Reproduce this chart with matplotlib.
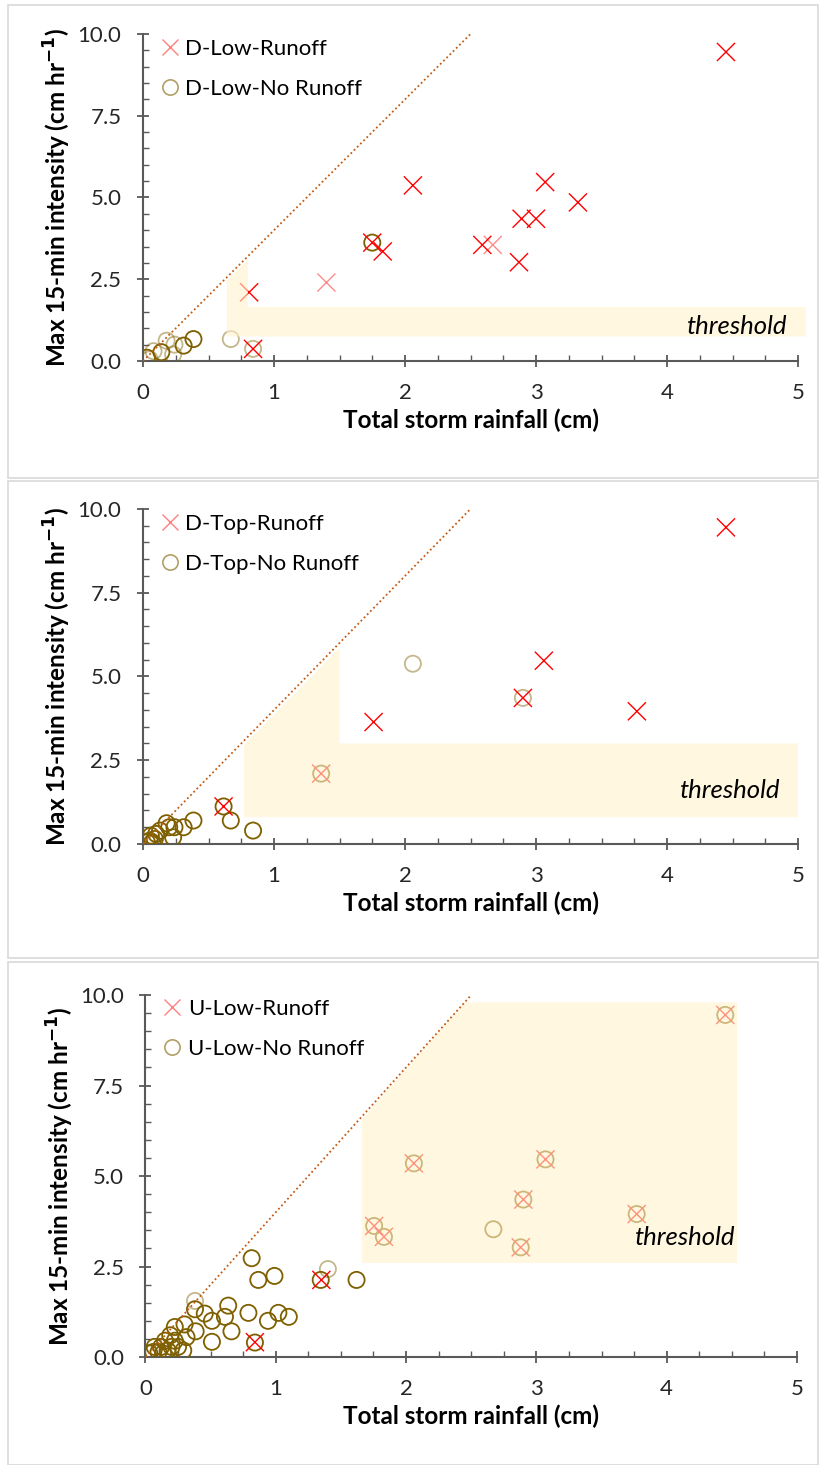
import matplotlib.pyplot as plt
from matplotlib.lines import Line2D
from matplotlib.patches import Rectangle
from matplotlib.ticker import MultipleLocator, FormatStrFormatter

plt.rcParams['font.family'] = ['Lato', 'DejaVu Sans']

# D-Low
dlow_run_x = [0.84, 0.81, 1.40, 1.75, 1.83, 2.06, 2.59, 2.67, 2.87, 2.89, 3.00, 3.07, 3.32, 4.45]
dlow_run_y = [0.37, 2.10, 2.40, 3.62, 3.35, 5.37, 3.55, 3.55, 3.02, 4.35, 4.35, 5.47, 4.85, 9.45]
dlow_norun_x = [1.75, 0.84, 0.67, 0.385, 0.31, 0.18, 0.24, 0.23, 0.14, 0.08, 0.05, 0.03]
dlow_norun_y = [3.62, 0.37, 0.67, 0.67, 0.47, 0.62, 0.50, 0.20, 0.27, 0.30, 0.05, 0.10]

# D-Top
dtop_run_x = [0.615, 1.36, 1.76, 2.90, 3.06, 3.77, 4.45]
dtop_run_y = [1.12, 2.10, 3.64, 4.36, 5.47, 3.96, 9.45]
dtop_norun_x = [0.615, 1.36, 2.06, 2.90, 0.67, 0.84, 0.385, 0.31, 0.23, 0.18,
                0.20, 0.24, 0.13, 0.06, 0.05, 0.09, 0.10, 0.03, 0.07]
dtop_norun_y = [1.12, 2.10, 5.38, 4.36, 0.70, 0.40, 0.70, 0.50, 0.20, 0.62,
                0.50, 0.50, 0.40, 0.25, 0.10, 0.15, 0.30, 0.05, 0.05]

# U-Low
ulow_run_x = [0.84, 1.35, 1.755, 1.83, 2.06, 2.88, 2.90, 3.07, 3.77, 4.45]
ulow_run_y = [0.41, 2.13, 3.62, 3.32, 5.35, 3.03, 4.35, 5.46, 3.95, 9.45]
ulow_norun_x = [4.45, 3.77, 3.07, 2.90, 2.88, 2.67, 2.06, 1.83, 1.755, 0.815,
                0.866, 0.99, 1.40, 1.345, 1.62, 0.38, 0.38, 0.455, 0.51, 0.635,
                0.61, 0.66, 0.51, 0.79, 0.94, 1.02, 1.10, 0.84, 0.385, 0.30,
                0.315, 0.29, 0.225, 0.19, 0.15, 0.225, 0.20, 0.12, 0.10, 0.06,
                0.03, 0.07, 0.25, 0.17, 0.135]
ulow_norun_y = [9.45, 3.95, 5.46, 4.35, 3.03, 3.53, 5.35, 3.32, 3.62, 2.73,
                2.13, 2.24, 2.43, 2.13, 2.13, 1.55, 1.32, 1.20, 1.00, 1.42,
                1.11, 0.71, 0.42, 1.22, 1.00, 1.22, 1.11, 0.40, 0.71, 0.90,
                0.55, 0.18, 0.83, 0.60, 0.45, 0.45, 0.28, 0.28, 0.14, 0.14,
                0.10, 0.28, 0.28, 0.18, 0.10]

# shaded "threshold" zones (x, y vertices)
dlow_zone = ([0.64, 5.06, 5.06, 0.80, 0.80, 0.64], [0.75, 0.75, 1.65, 1.65, 3.10, 2.45])
dtop_zone = ([0.77, 5.0, 5.0, 1.50, 1.50, 0.77], [0.80, 0.80, 3.0, 3.0, 5.85, 2.95])
ulow_zone = ([1.66, 4.54, 4.54, 2.45, 1.66], [2.60, 2.60, 9.80, 9.80, 6.55])

RED = '#FF0000'
OLIVE = '#7F6000'
FILL = '#FFF2CC'


def rgba(hexcol, n, faint):
    c = plt.matplotlib.colors.to_rgba(hexcol)
    return [(c[0], c[1], c[2], 0.45 if i in faint else 1.0) for i in range(n)]


def panel(ax, rx, ry, nx, ny, zone, names, faint_r, faint_n, txt_pos):
    ax.scatter(nx, ny, s=135, facecolors='none', edgecolors=rgba(OLIVE, len(nx), faint_n),
               linewidths=1.3, zorder=3)
    ax.scatter(rx, ry, s=170, marker='x', c=rgba(RED, len(rx), faint_r),
               linewidths=1.0, zorder=4)
    ax.fill(zone[0], zone[1], color=FILL, alpha=0.6, lw=0, zorder=5, clip_on=False)
    ax.plot([0, 2.5], [0, 10], ls=(0, (1, 1.5)), color='#C55A11', lw=1.3, zorder=6)
    ax.text(txt_pos[0], txt_pos[1], 'threshold', style='italic', fontsize=18.5,
            ha='right', va='center', zorder=7)

    ax.set_xlim(0, 5)
    ax.set_ylim(0, 10)
    ax.xaxis.set_major_locator(MultipleLocator(1))
    ax.xaxis.set_minor_locator(MultipleLocator(0.25))
    ax.yaxis.set_major_locator(MultipleLocator(2.5))
    ax.yaxis.set_minor_locator(MultipleLocator(0.5))
    ax.yaxis.set_major_formatter(FormatStrFormatter('%.1f'))
    for s in ['top', 'right']:
        ax.spines[s].set_visible(False)
    for s in ['left', 'bottom']:
        ax.spines[s].set_color('#595959')
        ax.spines[s].set_linewidth(1.5)
    ax.tick_params(which='major', direction='inout', length=9, width=1.3,
                   color='#595959', labelsize=16, labelcolor='#262626', pad=11)
    ax.tick_params(which='minor', direction='in', length=4.5, width=1.0, color='#595959')
    ax.set_xlabel('Total storm rainfall (cm)', fontsize=17.5, fontweight='bold', labelpad=4)
    ax.set_ylabel('Max 15-min intensity (cm hr$^{\\mathbf{-1}}$)', fontsize=17.5,
                  fontweight='bold', labelpad=3)

    handles = [Line2D([], [], ls='none', marker='x', ms=12, mew=1.0, color=RED, alpha=0.5),
               Line2D([], [], ls='none', marker='o', ms=11, mew=1.2, mfc='none',
                      mec=OLIVE, alpha=0.6)]
    ax.legend(handles, names, loc='upper left', bbox_to_anchor=(-0.005, 1.045),
              frameon=False, fontsize=16, handlelength=0.9, handletextpad=0.25,
              labelspacing=0.9)


fig = plt.figure(figsize=(8.21, 14.65), dpi=100)

for y0, h in [(5, 473), (481, 477), (962, 503)]:
    fig.patches.append(Rectangle((8 / 821, 1 - (y0 + h) / 1465), 810 / 821, h / 1465,
                                 transform=fig.transFigure, fill=False,
                                 edgecolor='#D9D9D9', lw=1.2))

ax1 = fig.add_axes([0.1742, 0.7536, 0.7978, 0.2232])
panel(ax1, dlow_run_x, dlow_run_y, dlow_norun_x, dlow_norun_y, dlow_zone,
      ['D-Low-Runoff', 'D-Low-No Runoff'], [2, 7], [1, 2, 5, 6, 7, 9, 10], (4.91, 1.05))

ax2 = fig.add_axes([0.1742, 0.4239, 0.7978, 0.2287])
panel(ax2, dtop_run_x, dtop_run_y, dtop_norun_x, dtop_norun_y, dtop_zone,
      ['D-Top-Runoff', 'D-Top-No Runoff'], [], [2, 3], (4.86, 1.6))

ax3 = fig.add_axes([0.1772, 0.0737, 0.7935, 0.2471])
panel(ax3, ulow_run_x, ulow_run_y, ulow_norun_x, ulow_norun_y, ulow_zone,
      ['U-Low-Runoff', 'U-Low-No Runoff'], [], [12, 15], (4.52, 3.29))

plt.savefig('out.png', dpi=100)
plt.close()
